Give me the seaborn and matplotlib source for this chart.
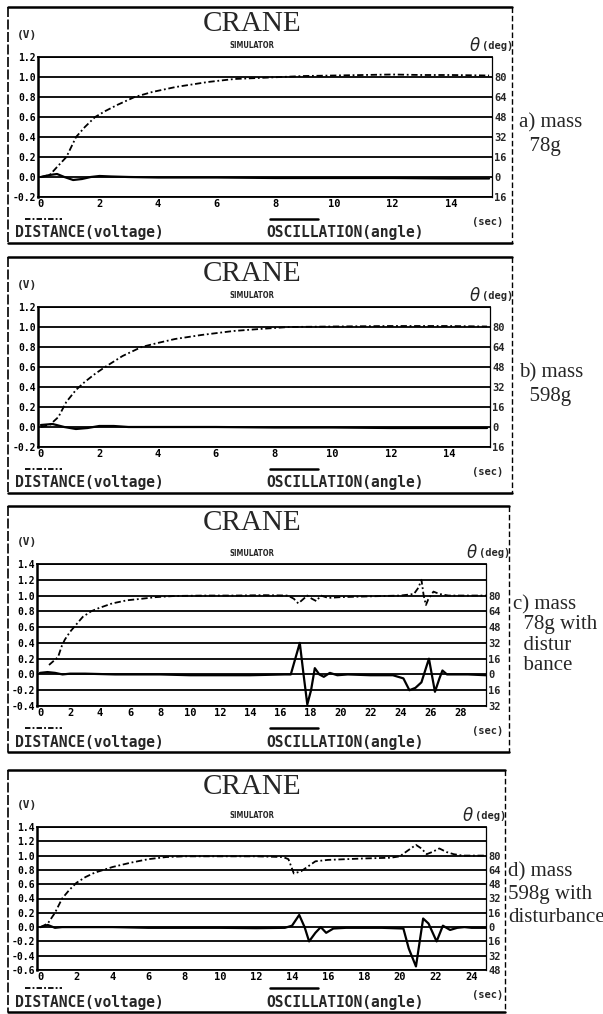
import numpy as np
import pandas as pd
import matplotlib
matplotlib.use("Agg")
import matplotlib.pyplot as plt
from matplotlib.lines import Line2D
import seaborn as sns

# ---------------- data ----------------
# panel a) mass 78g
a_t_dist = [0, 0.3, 0.55, 0.87, 1.2, 1.5, 1.85, 2.2, 2.6, 3.2, 3.8, 4.6, 5.7, 6.6, 7.4, 8.2, 9.0, 10.0, 11.0, 12.0, 13.0, 14.0, 15.3]
a_dist = [0.0, 0.02, 0.1, 0.2, 0.4, 0.5, 0.6, 0.66, 0.72, 0.8, 0.85, 0.9, 0.95, 0.98, 0.99, 1.0, 1.01, 1.015, 1.02, 1.025, 1.02, 1.02, 1.015]
a_t_osc = [0, 0.3, 0.55, 0.8, 1.1, 1.4, 1.7, 2.0, 2.4, 3.0, 4.0, 6.0, 8.0, 10.0, 12.0, 14.0, 15.3]
a_osc = [0.0, 0.02, 0.03, 0.0, -0.03, -0.02, 0.0, 0.01, 0.005, 0.0, -0.005, -0.005, -0.01, -0.01, -0.01, -0.015, -0.015]

# panel b) mass 598g
b_t_dist = [0, 0.3, 0.6, 0.87, 1.2, 1.5, 1.85, 2.2, 2.8, 3.45, 4.0, 4.6, 5.5, 6.6, 7.5, 8.5, 10, 12, 14, 15.3]
b_dist = [0.0, 0.02, 0.1, 0.25, 0.37, 0.45, 0.53, 0.6, 0.71, 0.8, 0.84, 0.88, 0.92, 0.96, 0.98, 1.0, 1.005, 1.01, 1.01, 1.005]
b_t_osc = [0, 0.4, 0.8, 1.2, 1.6, 2.0, 2.5, 3.0, 4, 6, 8, 10, 12, 14, 15.3]
b_osc = [0.02, 0.03, 0.0, -0.02, -0.01, 0.01, 0.01, 0.0, 0.0, 0.0, -0.005, -0.005, -0.01, -0.01, -0.01]

# panel c) mass 78g with disturbance
c_t_dist = [0.6, 0.9, 1.2, 1.45, 1.65, 2.0, 2.4, 2.85, 3.4, 3.9, 4.8, 5.8, 6.8, 7.7, 9, 11, 13, 15, 16.5, 16.9, 17.2, 17.5, 17.8, 18.1, 18.4, 18.7, 19.2, 20, 22, 24, 24.9, 25.2, 25.4, 25.55, 25.7, 25.85, 26.2, 26.6, 27.2, 28, 29.7]
c_dist = [0.12, 0.17, 0.22, 0.36, 0.44, 0.54, 0.63, 0.73, 0.8, 0.84, 0.9, 0.94, 0.96, 0.98, 0.995, 1.0, 1.0, 1.005, 1.0, 0.96, 0.9, 0.95, 1.0, 0.96, 0.93, 1.0, 0.97, 0.98, 0.99, 1.0, 1.02, 1.1, 1.2, 1.0, 0.88, 0.95, 1.05, 1.02, 1.0, 1.0, 1.0]
c_t_osc = [0, 0.5, 1.0, 1.5, 2, 3, 5, 8, 10, 12, 14, 16.3, 16.7, 17.0, 17.3, 17.55, 17.8, 18.05, 18.3, 18.6, 18.9, 19.3, 19.8, 20.5, 22, 23.5, 24.2, 24.6, 25.0, 25.4, 25.9, 26.3, 26.6, 26.8, 27.1, 27.6, 28.5, 29.7]
c_osc = [0.02, 0.03, 0.02, 0.0, 0.01, 0.01, 0.0, 0.0, -0.01, -0.01, -0.01, 0.0, 0.0, 0.2, 0.4, 0.0, -0.38, -0.2, 0.08, 0.0, -0.03, 0.02, -0.01, 0.0, -0.01, -0.01, -0.05, -0.2, -0.17, -0.1, 0.2, -0.22, -0.05, 0.05, 0.0, 0.0, 0.0, -0.01]

# panel d) mass 598g with disturbance
d_t_dist = [0, 0.4, 0.8, 1.2, 1.6, 2.0, 2.5, 3.0, 3.5, 4.0, 5.0, 6.0, 7.0, 8.0, 10.0, 12.0, 13.5, 13.8, 14.1, 14.5, 14.9, 15.3, 16.0, 17.0, 18.0, 19.5, 20.0, 20.5, 20.9, 21.2, 21.5, 21.8, 22.2, 22.6, 23.0, 23.5, 24.8]
d_dist = [0.0, 0.05, 0.2, 0.4, 0.52, 0.62, 0.7, 0.76, 0.8, 0.84, 0.9, 0.95, 0.98, 0.99, 0.99, 0.99, 0.98, 0.95, 0.75, 0.78, 0.85, 0.92, 0.94, 0.95, 0.96, 0.97, 0.99, 1.08, 1.15, 1.1, 1.02, 1.05, 1.1, 1.05, 1.02, 1.0, 1.0]
d_t_osc = [0, 0.4, 0.8, 1.2, 2, 4, 6, 8, 10, 12, 13.6, 14.0, 14.4, 14.7, 14.95, 15.3, 15.6, 15.9, 16.3, 17, 18, 19, 20.2, 20.5, 20.9, 21.3, 21.6, 22.05, 22.4, 22.8, 23.2, 23.6, 24, 24.8]
d_osc = [0.0, 0.03, -0.01, 0.0, 0.0, 0.0, -0.01, -0.01, -0.01, -0.015, -0.01, 0.02, 0.17, 0.0, -0.2, -0.08, 0.0, -0.08, -0.02, -0.01, -0.01, -0.01, -0.02, -0.3, -0.55, 0.12, 0.05, -0.2, 0.02, -0.04, -0.01, 0.0, -0.01, -0.01]

a_yticks = [-0.2, 0.0, 0.2, 0.4, 0.6, 0.8, 1.0, 1.2]
c_yticks = [-0.4, -0.2, 0.0, 0.2, 0.4, 0.6, 0.8, 1.0, 1.2, 1.4]
d_yticks = [-0.6, -0.4, -0.2, 0.0, 0.2, 0.4, 0.6, 0.8, 1.0, 1.2, 1.4]
a_xticks = list(range(0, 15, 2))
c_xticks = list(range(0, 29, 2))
d_xticks = list(range(0, 25, 2))
a_deg = [-16, 0, 16, 32, 48, 64, 80]
c_deg = [-32, -16, 0, 16, 32, 48, 64, 80]
d_deg = [-48, -32, -16, 0, 16, 32, 48, 64, 80]

captions = {
    "a": ["a) mass", "  78g"],
    "b": ["b) mass", "  598g"],
    "c": ["c) mass", "  78g with", "  distur", "  bance"],
    "d": ["d) mass", "598g with", "disturbance"],
}

# ---------------- layout (pixels) ----------------
W, H = 603, 1014
panels = [
    dict(key="a", t_d=a_t_dist, d=a_dist, t_o=a_t_osc, o=a_osc, yt=a_yticks, xt=a_xticks, deg=a_deg,
         ax=(38, 492, 57, 197), frame=(8, 512, 7, 243), xlim=(-0.1, 15.4), cap=(519, 123, 24)),
    dict(key="b", t_d=b_t_dist, d=b_dist, t_o=b_t_osc, o=b_osc, yt=a_yticks, xt=a_xticks, deg=a_deg,
         ax=(38, 490, 307, 447), frame=(8, 512, 257, 493), xlim=(-0.1, 15.4), cap=(519, 373, 24)),
    dict(key="c", t_d=c_t_dist, d=c_dist, t_o=c_t_osc, o=c_osc, yt=c_yticks, xt=c_xticks, deg=c_deg,
         ax=(37, 486, 564, 706), frame=(8, 509, 506, 752), xlim=(-0.2, 29.7), cap=(513, 605, 20)),
    dict(key="d", t_d=d_t_dist, d=d_dist, t_o=d_t_osc, o=d_osc, yt=d_yticks, xt=d_xticks, deg=d_deg,
         ax=(37, 486, 827, 970), frame=(8, 505, 770, 1012), xlim=(-0.2, 24.8), cap=(508, 872, 23)),
]

def fx(px):
    return px / W

def fy(py):
    return 1 - py / H

sns.set_theme(style="white")
plt.rcParams["font.family"] = ["DejaVu Sans Mono", "DejaVu Sans"]

fig = plt.figure(figsize=(W / 100, H / 100), dpi=100)
fig.patch.set_facecolor("white")

mono = dict(family="DejaVu Sans Mono", weight="bold")
serif = "Liberation Serif"

for p in panels:
    x0, x1, y0, y1 = p["ax"]
    fl, fr, ft, fb = p["frame"]
    ax = fig.add_axes([fx(x0), fy(y1), fx(x1) - fx(x0), (y1 - y0) / H])
    ax.set_facecolor("white")

    dist_df = pd.DataFrame({"t": p["t_d"], "v": p["d"]})
    osc_df = pd.DataFrame({"t": p["t_o"], "v": p["o"]})
    sns.lineplot(data=dist_df, x="t", y="v", ax=ax, color="black", linewidth=1.3,
                 linestyle=(0, (3.5, 1.5, 1, 1.5)), sort=False, estimator=None)
    sns.lineplot(data=osc_df, x="t", y="v", ax=ax, color="black", linewidth=1.6,
                 sort=False, estimator=None)

    yt = p["yt"]
    ax.set_ylim(yt[0], yt[-1])
    ax.set_xlim(*p["xlim"])
    ax.set_yticks(yt)
    ax.set_yticklabels([f"{v:.1f}" for v in yt], fontsize=7, **mono)
    ax.set_xticks(p["xt"])
    ax.set_xticklabels([str(v) for v in p["xt"]], fontsize=7.5, **mono)
    ax.set_xlabel("")
    ax.set_ylabel("")
    ax.tick_params(axis="both", length=0, pad=1.5, colors="black")
    ax.grid(axis="y", color="black", linewidth=1.3)
    ax.grid(axis="x", visible=False)
    for s in ["top", "bottom"]:
        ax.spines[s].set_visible(True)
        ax.spines[s].set_linewidth(1.3)
        ax.spines[s].set_color("black")
    ax.spines["left"].set_linewidth(1.8)
    ax.spines["left"].set_color("black")
    ax.spines["right"].set_linewidth(0.9)
    ax.spines["right"].set_color("black")

    ax2 = ax.twinx()
    ax2.set_ylim(yt[0] * 80, yt[-1] * 80)
    ax2.set_yticks(p["deg"])
    ax2.set_yticklabels([str(abs(v)) for v in p["deg"]], fontsize=7.5, **mono)
    ax2.tick_params(axis="y", length=0, pad=1.5)
    ax2.grid(False)
    for s in ax2.spines.values():
        s.set_visible(False)

    # frame around the panel
    fig.add_artist(Line2D([fx(fl), fx(fr)], [fy(ft), fy(ft)], color="black", lw=1.8))
    fig.add_artist(Line2D([fx(fl), fx(fr)], [fy(fb), fy(fb)], color="black", lw=1.8))
    fig.add_artist(Line2D([fx(fl), fx(fl)], [fy(ft), fy(fb)], color="black", lw=1.2,
                          linestyle=(0, (6, 1.5))))
    fig.add_artist(Line2D([fx(fr), fx(fr)], [fy(ft), fy(fb)], color="black", lw=1.0,
                          linestyle=(0, (4, 2))))

    # titles
    fig.text(fx(252), fy(ft + 17), "CRANE", family=serif, fontsize=21, ha="center", va="center")
    fig.text(fx(252), fy(y0 - 11), "SIMULATOR", family="DejaVu Sans", weight="bold",
             fontsize=5.5, ha="center", va="center", stretch="condensed")
    fig.text(fx(17), fy(y0 - 22), "(V)", fontsize=8, ha="left", va="center", **mono)
    fig.text(fx(fr - 31), fy(y0 - 11), r"$\theta$", family="DejaVu Serif", fontsize=12,
             ha="right", va="center")
    fig.text(fx(fr + 1), fy(y0 - 11), "(deg)", fontsize=7.5, ha="right", va="center", **mono)
    fig.text(fx(503), fy(y1 + 25), "(sec)", fontsize=7.5, ha="right", va="center", **mono)

    # legend samples
    fig.add_artist(Line2D([fx(25), fx(62)], [fy(fb - 24), fy(fb - 24)], color="black", lw=1.3,
                          linestyle=(0, (3, 1.2, 1, 1.2))))
    fig.add_artist(Line2D([fx(270), fx(318)], [fy(fb - 24), fy(fb - 24)], color="black", lw=1.8))
    fig.text(fx(15), fy(fb - 10), "DISTANCE(voltage)", fontsize=10.5, ha="left", va="center", **mono)
    fig.text(fx(266), fy(fb - 10), "OSCILLATION(angle)", fontsize=10.5, ha="left", va="center", **mono)

    # caption on the right
    cx, cy, cdy = p["cap"]
    for i, line in enumerate(captions[p["key"]]):
        fig.text(fx(cx), fy(cy + i * cdy), line, family=serif, fontsize=15, ha="left", va="center")

fig.savefig("out.png", dpi=100, facecolor="white")
